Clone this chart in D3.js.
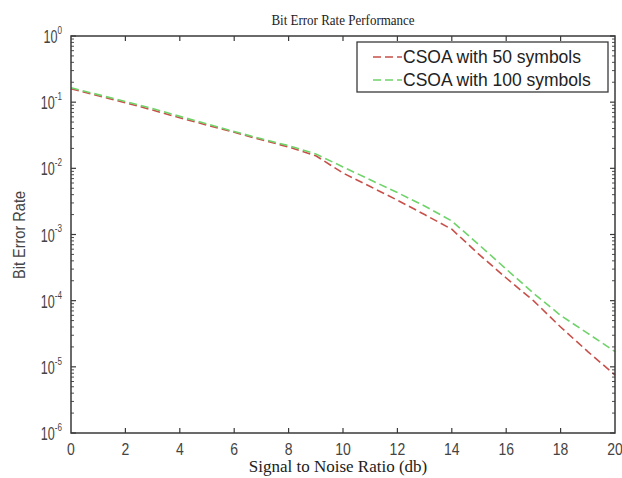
<!DOCTYPE html>
<html>
<head>
<meta charset="utf-8">
<script src="https://cdn.jsdelivr.net/npm/d3@7"></script>
<style>
body { margin: 0; background: #fff; }
</style>
</head>
<body>
<div id="chart"></div>
<script>
// values
var snr = [0, 1, 2, 3, 4, 5, 6, 7, 8, 9, 10, 11, 12, 13, 14, 15, 16, 17, 18, 19, 20];
var ber50 = [0.16, 0.125, 0.098, 0.076, 0.058, 0.045, 0.035, 0.027, 0.021, 0.0155, 0.0085,
             0.0053, 0.0033, 0.002, 0.0012, 0.0005, 0.00022, 0.0001, 0.00004, 0.000017, 0.0000075];
var ber100 = [0.165, 0.13, 0.102, 0.08, 0.061, 0.047, 0.036, 0.028, 0.022, 0.0165, 0.0105,
              0.0067, 0.0043, 0.0027, 0.0016, 0.0007, 0.0003, 0.00013, 0.00006, 0.000032, 0.000017];
var xTicks = [0, 2, 4, 6, 8, 10, 12, 14, 16, 18, 20];
var yExps = [0, -1, -2, -3, -4, -5, -6];
var seriesNames = ["CSOA with 50 symbols", "CSOA with 100 symbols"];
var seriesColors = ["#c8504a", "#6fd36a"];

var W = 622, H = 478;
var margin = {top: 36, right: 7, bottom: 45, left: 71};
var w = W - margin.left - margin.right;
var h = H - margin.top - margin.bottom;
var axisColor = "#3a3a3a";
var sans = "Liberation Sans, Arial, sans-serif";
var serif = "Liberation Serif, Times New Roman, serif";

var svg = d3.select("#chart").append("svg")
  .attr("width", W)
  .attr("height", H);

var g = svg.append("g")
  .attr("transform", "translate(" + margin.left + "," + margin.top + ")");

var x = d3.scaleLinear().domain([0, 20]).range([0, w]);
var y = d3.scaleLog().domain([1e-6, 1]).range([h, 0]);

// lines
var line = d3.line()
  .x(function(d, i) { return x(snr[i]); })
  .y(function(d) { return y(d); });

[ber50, ber100].forEach(function(s, k) {
  g.append("path")
    .datum(s)
    .attr("d", line)
    .attr("fill", "none")
    .attr("stroke", seriesColors[k])
    .attr("stroke-width", 1.6)
    .attr("stroke-dasharray", "8,4");
});

// box
g.append("rect")
  .attr("width", w).attr("height", h)
  .attr("fill", "none")
  .attr("stroke", axisColor)
  .attr("stroke-width", 1.5);

// x ticks (inward, bottom and top)
xTicks.forEach(function(t) {
  if (t === 0 || t === 20) return;
  g.append("line").attr("x1", x(t)).attr("x2", x(t)).attr("y1", h).attr("y2", h - 5)
    .attr("stroke", axisColor).attr("stroke-width", 1.2);
  g.append("line").attr("x1", x(t)).attr("x2", x(t)).attr("y1", 0).attr("y2", 5)
    .attr("stroke", axisColor).attr("stroke-width", 1.2);
});
g.selectAll(".xlab").data(xTicks).enter().append("text")
  .attr("transform", function(d) { return "translate(" + x(d) + "," + (h + 22) + ") scale(1,1.2)"; })
  .attr("text-anchor", "middle")
  .attr("font-family", sans)
  .attr("font-size", 14)
  .attr("fill", "#444")
  .text(function(d) { return d; });

// y ticks, major and minor, left and right
yExps.forEach(function(e) {
  var v = Math.pow(10, e);
  var py = y(v);
  g.append("line").attr("x1", 0).attr("x2", 5).attr("y1", py).attr("y2", py)
    .attr("stroke", axisColor).attr("stroke-width", 1.2);
  g.append("line").attr("x1", w).attr("x2", w - 5).attr("y1", py).attr("y2", py)
    .attr("stroke", axisColor).attr("stroke-width", 1.2);
  if (e < 0) {
    for (var m = 2; m <= 9; m++) {
      var my = y(m * v);
      g.append("line").attr("x1", 0).attr("x2", 3).attr("y1", my).attr("y2", my)
        .attr("stroke", axisColor).attr("stroke-width", 0.9);
      g.append("line").attr("x1", w).attr("x2", w - 3).attr("y1", my).attr("y2", my)
        .attr("stroke", axisColor).attr("stroke-width", 0.9);
    }
  }
  var t = g.append("text")
    .attr("transform", "translate(-9," + (py + 7) + ") scale(0.9,1.3)")
    .attr("text-anchor", "end")
    .attr("font-family", sans)
    .attr("font-size", 14)
    .attr("fill", "#444");
  t.append("tspan").text("10");
  t.append("tspan").attr("dy", -7).attr("font-size", 9).text(e);
});

// title and axis labels
svg.append("text")
  .attr("transform", "translate(" + (margin.left + w / 2) + ",25) scale(1,1.15)")
  .attr("text-anchor", "middle")
  .attr("font-family", serif)
  .attr("font-size", 13)
  .attr("fill", "#222")
  .text("Bit Error Rate Performance");

svg.append("text")
  .attr("x", 338)
  .attr("y", 472)
  .attr("text-anchor", "middle")
  .attr("font-family", serif)
  .attr("font-size", 17)
  .attr("fill", "#222")
  .text("Signal to Noise Ratio (db)");

svg.append("text")
  .attr("transform", "translate(25,235) rotate(-90)")
  .attr("text-anchor", "middle")
  .attr("font-family", sans)
  .attr("font-size", 16)
  .attr("textLength", 88)
  .attr("lengthAdjust", "spacingAndGlyphs")
  .attr("fill", "#444")
  .text("Bit Error Rate");

// legend
var lg = svg.append("g").attr("transform", "translate(357,42)");
lg.append("rect")
  .attr("width", 251).attr("height", 50)
  .attr("fill", "#fff")
  .attr("stroke", axisColor)
  .attr("stroke-width", 1.3);
seriesNames.forEach(function(name, k) {
  var ly = 15 + k * 23;
  lg.append("line")
    .attr("x1", 16).attr("x2", 45).attr("y1", ly).attr("y2", ly)
    .attr("stroke", seriesColors[k])
    .attr("stroke-width", 1.6)
    .attr("stroke-dasharray", "8,4");
  lg.append("text")
    .attr("x", 46)
    .attr("y", ly + 6)
    .attr("font-family", sans)
    .attr("font-size", 17.5)
    .attr("fill", "#222")
    .text(name);
});
</script>
</body>
</html>
